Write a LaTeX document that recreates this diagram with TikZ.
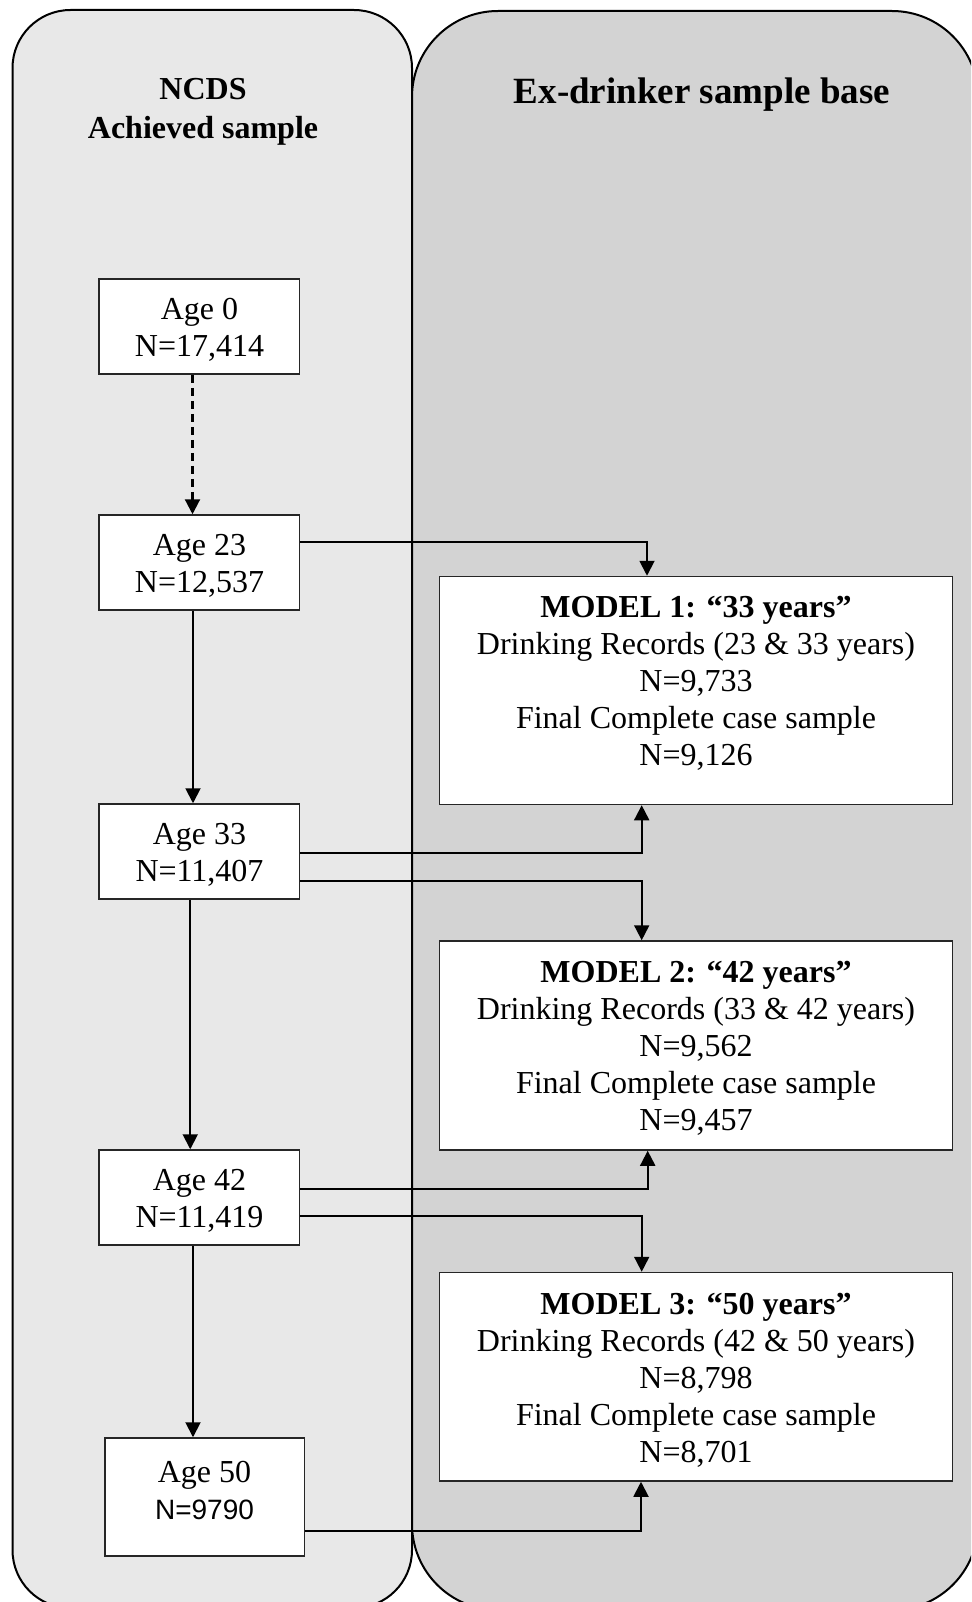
\documentclass[tikz,border=0pt]{standalone}
\usepackage{fontspec}
\setmainfont{Liberation Serif}
\newfontfamily\arialfont{Liberation Sans}
\usetikzlibrary{arrows.meta}
\definecolor{panelA}{RGB}{232,232,232}
\definecolor{panelB}{RGB}{211,211,211}
\begin{document}
\begin{tikzpicture}[x=1pt,y=-1pt,
  panel/.style={draw=black,line width=2pt},
  box/.style={draw=black!85,line width=1.5pt,fill=white,inner sep=0pt},
  agebox/.style={box,minimum width=200.5pt,minimum height=95pt},
  txt/.style={align=center,inner sep=0pt,font=\fontsize{32}{37}\selectfont},
  title/.style={align=center,inner sep=0pt,font=\fontsize{32}{39}\selectfont\bfseries},
  conn/.style={line width=1.9pt,-{Triangle[width=15pt,length=15pt]}},
  dconn/.style={conn,line width=2.2pt,dash pattern=on 8pt off 5pt}]
\useasboundingbox (0,0) rectangle (971,1602);
\begin{scope}
  \clip (0,0) rectangle (971,1602);
  \draw[panel,fill=panelA,rounded corners=58pt] (12.5,10) rectangle (412,1608);
  \draw[panel,fill=panelB,rounded corners=86pt] (412,11) rectangle (978,1610);
\end{scope}
\node[title] (tl) at (203,111.5) {NCDS\\Achieved sample};
\node[title,font=\fontsize{37}{44}\selectfont\bfseries] (tr) at (702,95) {Ex-drinker sample base};
% age boxes
\node[agebox] (a0) at (199.25,326.5) {};
\node[txt] (t0) at (199.5,329.5) {Age 0\\N=17,414};
\node[agebox] (a23) at (199.25,562.5) {};
\node[txt] (t23) at (199.5,565.5) {Age 23\\N=12,537};
\node[agebox] (a33) at (199.25,851.5) {};
\node[txt] (t33) at (199.5,854.5) {Age 33\\N=11,407};
\node[agebox] (a42) at (199.25,1197.5) {};
\node[txt] (t42) at (199.5,1200.5) {Age 42\\N=11,419};
\node[box,minimum width=199.5pt,minimum height=118pt] (a50) at (204.75,1497) {};
\node[txt] (t50) at (204.5,1490) {Age 50\\{\arialfont\fontsize{28}{37}\selectfont N=9790}};
% model boxes
\node[box,minimum width=513pt,minimum height=228pt] (m1) at (696,690.5) {};
\node[txt] (t1) at (696,683) {\textbf{MODEL 1: “33 years”}\\Drinking Records (23 \& 33 years)\\N=9,733\\Final Complete case sample\\N=9,126};
\node[box,minimum width=513pt,minimum height=209pt] (m2) at (696,1045.5) {};
\node[txt] (t2) at (696,1048) {\textbf{MODEL 2: “42 years”}\\Drinking Records (33 \& 42 years)\\N=9,562\\Final Complete case sample\\N=9,457};
\node[box,minimum width=513pt,minimum height=208.5pt] (m3) at (696,1376.75) {};
\node[txt] (t3) at (696,1380) {\textbf{MODEL 3: “50 years”}\\Drinking Records (42 \& 50 years)\\N=8,798\\Final Complete case sample\\N=8,701};
% vertical connectors
\draw[dconn] ([xshift=-6.75pt]a0.south) -- ([xshift=-6.75pt]a23.north);
\draw[conn] ([xshift=-6.25pt]a23.south) -- ([xshift=-6.25pt]a33.north);
\draw[conn] ([xshift=-9pt]a33.south) -- ([xshift=-9pt]a42.south |- a42.north);
\draw[conn] ([xshift=-6.25pt]a42.south) -- ([xshift=-6.25pt]a42.south |- a50.north);
% horizontal connectors
\draw[conn] ([yshift=20.8pt]a23.east) -| ([xshift=-49pt]m1.north);
\draw[conn] ([yshift=-1.9pt]a33.east) -| ([xshift=-54.3pt]m1.south);
\draw[conn] ([yshift=-29.5pt]a33.east) -| ([xshift=-54.3pt]m2.north);
\draw[conn] ([yshift=8.2pt]a42.east) -| ([xshift=-48.3pt]m2.south);
\draw[conn] ([yshift=-18.2pt]a42.east) -| ([xshift=-54.3pt]m3.north);
\draw[conn] ([yshift=-33.7pt]a50.east) -| ([xshift=-55pt]m3.south);
\end{tikzpicture}
\end{document}
